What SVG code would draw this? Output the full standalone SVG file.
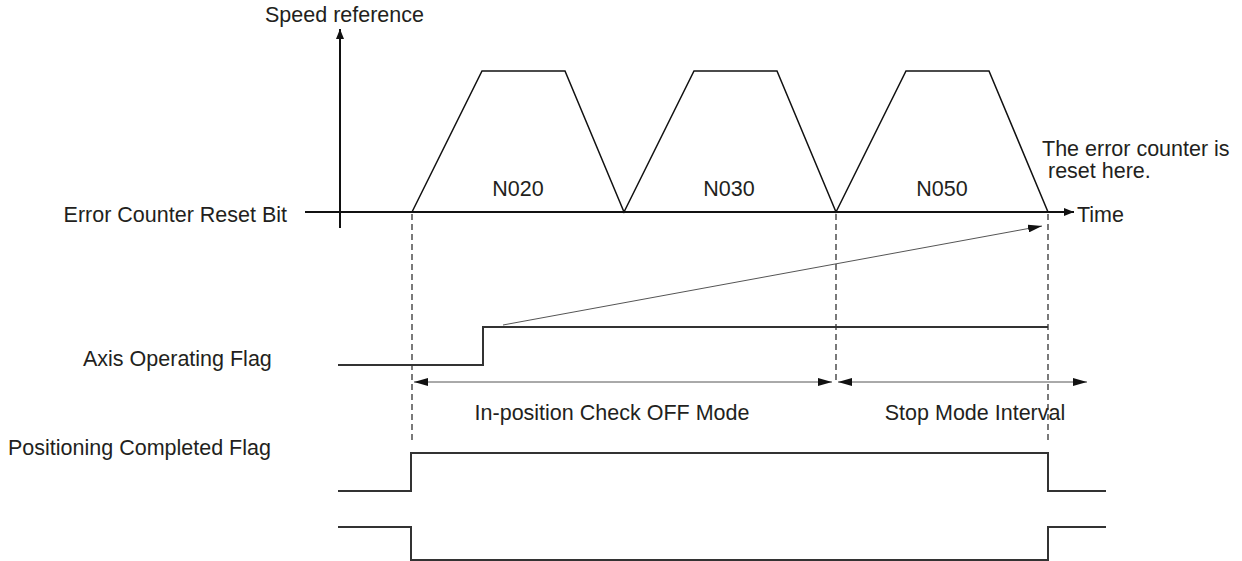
<svg xmlns="http://www.w3.org/2000/svg" width="1242" height="561" viewBox="0 0 1242 561">
<style>
text{font-family:"Liberation Sans",Arial,sans-serif;font-size:21.5px;fill:#231f20}
.ax{stroke:#111;stroke-width:2;fill:none}
.tr{stroke:#111;stroke-width:1.5;fill:none}
.fl{stroke:#333;stroke-width:2;fill:none}
.da{stroke:#333;stroke-width:1.3;stroke-dasharray:6,4;fill:none}
.dim{stroke:#555;stroke-width:1;fill:none}
</style>
<defs>
<marker id="ah" viewBox="0 0 10 8" refX="10" refY="4" markerWidth="10" markerHeight="8" markerUnits="userSpaceOnUse" orient="auto-start-reverse">
<path d="M0,0 L10,4 L0,8 Z" fill="#111"/>
</marker>
<marker id="ad" viewBox="0 0 14 8" refX="14" refY="4" markerWidth="14" markerHeight="8" markerUnits="userSpaceOnUse" orient="auto-start-reverse">
<path d="M0,0 L14,4 L0,8 Z" fill="#111"/>
</marker>
</defs>
<g id="axes">
<line class="ax" x1="340" y1="228" x2="340" y2="29" marker-end="url(#ah)"/>
<line class="ax" x1="305" y1="212" x2="1074" y2="212" marker-end="url(#ah)"/>
<text x="265" y="22">Speed reference</text>
<text x="1077" y="222">Time</text>
<text x="287" y="222" text-anchor="end">Error Counter Reset Bit</text>
</g>
<g id="profile">
<polyline class="tr" points="412,212 482,71 565,71 624,212 694,71 777,71 836,212 906,71 989,71 1048,212"/>
<text x="518" y="196" text-anchor="middle">N020</text>
<text x="729" y="196" text-anchor="middle">N030</text>
<text x="942" y="196" text-anchor="middle">N050</text>
</g>
<g id="note">
<text x="1042" y="156">The error counter is</text>
<text x="1048" y="178">reset here.</text>
</g>
<g id="axis-flag">
<text x="83" y="366">Axis Operating Flag</text>
<polyline class="fl" points="338,365 483,365 483,327 1048,327"/>
</g>
<g id="positioning-flag">
<text x="8" y="455">Positioning Completed Flag</text>
<polyline class="fl" points="338,491 411,491 411,453 1048,453 1048,491 1106,491"/>
<polyline class="fl" points="338,527 411,527 411,560 1048,560 1048,527 1106,527"/>
</g>
<g id="connectors">
<line class="da" x1="412" y1="214" x2="412" y2="443"/>
<line class="da" x1="836" y1="214" x2="836" y2="383"/>
<line class="da" x1="1048" y1="214" x2="1048" y2="443"/>
<line class="dim" x1="503" y1="325" x2="1042" y2="226" marker-end="url(#ad)"/>
<line class="dim" x1="414" y1="382" x2="832" y2="382" marker-start="url(#ad)" marker-end="url(#ad)"/>
<line class="dim" x1="838" y1="382" x2="1087" y2="382" marker-start="url(#ad)" marker-end="url(#ad)"/>
</g>
<g id="intervals">
<text x="612" y="420" text-anchor="middle">In-position Check OFF Mode</text>
<text x="975" y="420" text-anchor="middle">Stop Mode Interval</text>
</g>
</svg>
